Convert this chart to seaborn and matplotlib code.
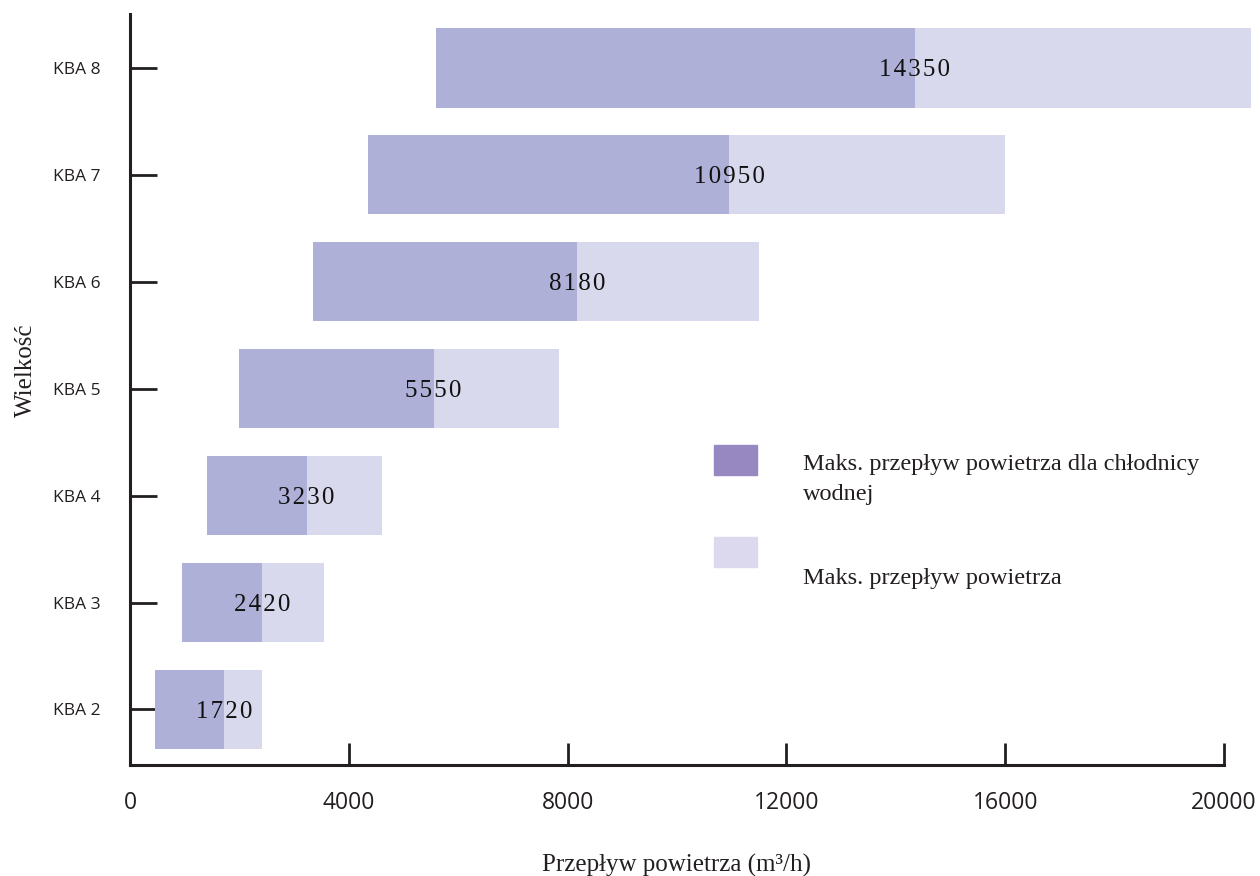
import matplotlib
matplotlib.use("Agg")
import matplotlib.pyplot as plt
import seaborn as sns
import pandas as pd
from matplotlib.patches import Rectangle

# unit sizes, listed top to bottom as they appear on the chart
sizes = ["KBA 8", "KBA 7", "KBA 6", "KBA 5", "KBA 4", "KBA 3", "KBA 2"]
flow_min = [5600, 4350, 3350, 2000, 1400, 950, 450]
flow_water = [14350, 10950, 8180, 5550, 3230, 2420, 1720]
flow_max = [20500, 16000, 11500, 7850, 4600, 3550, 2420]

x_ticks = [0, 4000, 8000, 12000, 16000, 20000]

legend_labels = ["Maks. przepływ powietrza dla chłodnicy", "wodnej", "Maks. przepływ powietrza"]

dark = "#afb0d8"
light = "#d9d9ed"
legend_dark = "#9788c2"
legend_light = "#dcd9ee"
ink = "#231f20"
serif = ["Liberation Serif", "DejaVu Serif"]

df = pd.DataFrame({"size": sizes, "lo": flow_min, "mid": flow_water, "hi": flow_max})
df["span_dark"] = df["mid"] - df["lo"]
df["span_light"] = df["hi"] - df["mid"]

sns.set_theme(style="white")
plt.rcParams["font.family"] = ["Open Sans", "DejaVu Sans"]

fig = plt.figure(figsize=(12.6, 8.76), dpi=100)
ax = fig.add_axes([130 / 1260, 1 - 765 / 876, (1224 - 130) / 1260, (765 - 14) / 876])

# light part: from water-cooler max to overall max
sns.barplot(data=df, y="size", x="span_light", left=df["mid"], color=light,
            saturation=1, orient="h", width=0.74, ax=ax, clip_on=False,
            edgecolor="none", linewidth=0)
# dark part: from min to water-cooler max
sns.barplot(data=df, y="size", x="span_dark", left=df["lo"], color=dark,
            saturation=1, orient="h", width=0.74, ax=ax, clip_on=False,
            edgecolor="none", linewidth=0)

for i, v in enumerate(flow_water):
    ax.text(v, i, "\u200a".join(str(v)), ha="center", va="center_baseline",
            fontsize=18, family=serif, color="#111111", zorder=5)

ax.set_xlim(0, 20000)
ax.set_ylim(6.52, -0.505)
ax.set_xticks(x_ticks)
ax.set_xticklabels([str(t) for t in x_ticks])

for s in ["top", "right"]:
    ax.spines[s].set_visible(False)
for s in ["left", "bottom"]:
    ax.spines[s].set_color(ink)
    ax.spines[s].set_linewidth(2.2)

ax.tick_params(axis="y", direction="in", length=19.5, width=2, color=ink,
               pad=21, labelsize=12.5, labelcolor=ink, left=True)
ax.tick_params(axis="x", direction="in", length=16, width=2, color=ink,
               pad=19, labelsize=16.5, labelcolor=ink, bottom=True)

ax.set_xlabel("Przepływ powietrza (m³/h)", fontsize=18, family=serif,
              color=ink, labelpad=28)
ax.set_ylabel("Wielkość", fontsize=18, family=serif, color=ink, labelpad=12)
ax.yaxis.label.set_y(0.526)

# legend drawn by hand
fig.add_artist(Rectangle((714 / 1260, 1 - 475 / 876), 43 / 1260, 30 / 876,
                         transform=fig.transFigure, color=legend_dark))
fig.add_artist(Rectangle((714 / 1260, 1 - 567 / 876), 43 / 1260, 30 / 876,
                         transform=fig.transFigure, color=legend_light))
fig.text(803 / 1260, 1 - 470 / 876, legend_labels[0], fontsize=17.5,
         family=serif, color=ink, va="baseline")
fig.text(803 / 1260, 1 - 500 / 876, legend_labels[1], fontsize=17.5,
         family=serif, color=ink, va="baseline")
fig.text(803 / 1260, 1 - 584 / 876, legend_labels[2], fontsize=17.5,
         family=serif, color=ink, va="baseline")

fig.savefig("out.png", dpi=100)
